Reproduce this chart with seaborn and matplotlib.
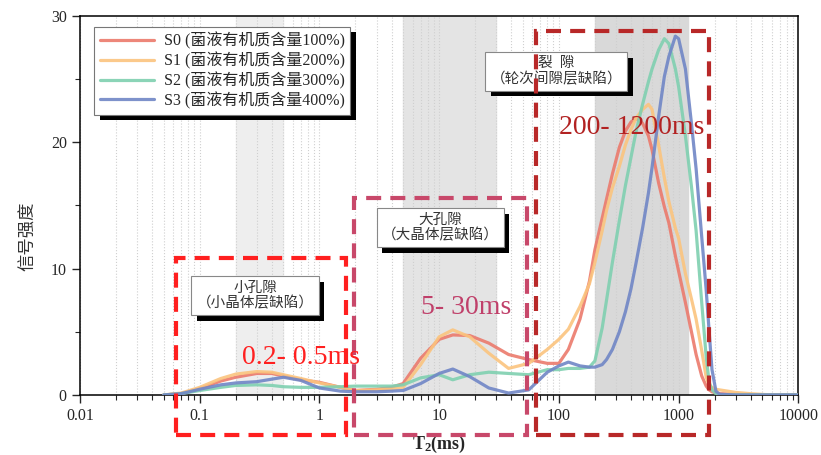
import matplotlib
matplotlib.use('Agg')
import numpy as np
import pandas as pd
import matplotlib.pyplot as plt
import matplotlib.patheffects as pe
from matplotlib.patches import Rectangle
from matplotlib.ticker import FixedLocator, FuncFormatter
import seaborn as sns

# T2 弛豫时间 (ms)
t2 = [0.05, 0.07, 0.1, 0.15, 0.2, 0.3, 0.4, 0.5, 0.7, 1, 1.5, 2, 3, 4, 5, 7, 10, 13, 18, 26,
      38, 56, 80, 100, 120, 150, 180, 200, 230, 250, 280, 320, 360, 400, 440, 500, 560, 600,
      680, 760, 830, 940, 1000, 1140, 1280, 1400, 1560, 1700, 1800, 1900, 2050, 2200, 3000,
      4000, 6000, 10000]

s0 = [0, 0.1, 0.5, 1.1, 1.4, 1.7, 1.7, 1.5, 1.2, 1.0, 0.6, 0.35, 0.45, 0.6, 0.9, 2.9, 4.4, 4.75, 4.7, 4.1,
      3.2, 2.8, 2.5, 2.5, 3.6, 6.0, 9.0, 11.5, 14.0, 15.5, 17.5, 19.6, 20.9, 21.6, 21.9, 21.5, 20.5, 19.4,
      16.8, 14.9, 13.6, 11.0, 9.8, 7.3, 5.0, 3.2, 1.5, 0.7, 0.4, 0.25, 0.15, 0.1, 0.05,
      0, 0, 0]
s1 = [0, 0.15, 0.6, 1.3, 1.65, 1.85, 1.8, 1.6, 1.3, 0.95, 0.6, 0.35, 0.4, 0.45, 0.6, 2.4, 4.6, 5.15, 4.6, 3.3,
      2.1, 2.5, 3.6, 4.4, 5.2, 7.0, 8.8, 10.5, 13.0, 14.6, 16.4, 18.1, 19.8, 21.0, 21.9, 22.6, 23.0, 22.6,
      19.8, 17.2, 15.3, 13.2, 12.4, 9.6, 7.6, 6.0, 3.5, 1.4, 0.8, 0.6, 0.45, 0.4, 0.2,
      0.1, 0, 0]
s2 = [0, 0.1, 0.35, 0.6, 0.75, 0.8, 0.75, 0.65, 0.6, 0.6, 0.65, 0.7, 0.7, 0.7, 0.8, 1.35, 1.6, 1.2, 1.6, 1.8,
      1.7, 1.6, 2.0, 2.0, 2.1, 2.1, 2.2, 2.7, 5.3, 7.5, 10.5, 13.8, 16.6, 18.8, 20.8, 23.0, 24.8, 25.8,
      27.3, 28.2, 27.8, 25.8, 24.4, 20.5, 16.5, 13.0, 7.3, 3.0, 1.0, 0.4, 0.1, 0, 0,
      0, 0, 0]
s3 = [0, 0.1, 0.45, 0.8, 0.95, 1.05, 1.25, 1.4, 1.15, 0.55, 0.3, 0.25, 0.25, 0.3, 0.35, 0.9, 1.7, 2.05, 1.45, 0.55,
      0.15, 0.4, 1.8, 2.3, 2.6, 2.3, 2.2, 2.2, 2.4, 2.8, 3.6, 5.0, 6.6, 8.4, 10.4, 13.2, 16.0, 18.0,
      22.0, 25.2, 26.8, 28.4, 28.2, 25.8, 21.5, 17.9, 12.5, 8.3, 5.0, 2.0, 0.3, 0.05, 0,
      0, 0, 0]

labels = ['S0 (菌液有机质含量100%)', 'S1 (菌液有机质含量200%)',
          'S2 (菌液有机质含量300%)', 'S3 (菌液有机质含量400%)']
colors = ['#eb7a6c', '#fbc47e', '#7fd0b0', '#7086c6']

df = pd.DataFrame({'T2': t2, labels[0]: s0, labels[1]: s1, labels[2]: s2, labels[3]: s3})
df = df.melt(id_vars='T2', var_name='样品', value_name='信号强度')

sns.set_style('ticks')
plt.rcParams['font.family'] = ['Liberation Serif', 'Noto Sans CJK SC']
plt.rcParams['mathtext.fontset'] = 'custom'
plt.rcParams['mathtext.rm'] = 'Liberation Serif'
plt.rcParams['mathtext.bf'] = 'Liberation Serif:bold'

fig = plt.figure(figsize=(8.21, 4.55), dpi=100)
ax = fig.add_axes([0.0974, 0.132, 0.875, 0.833])

# 孔隙区间底色
ax.axvspan(0.2, 0.5, color='#eeeeee', zorder=0)
ax.axvspan(5, 30, color='#e4e4e4', zorder=0)
ax.axvspan(200, 1200, color='#d9d9d9', zorder=0)

sns.lineplot(data=df, x='T2', y='信号强度', hue='样品', palette=colors, linewidth=2.3,
             alpha=0.9, ax=ax, legend=True, zorder=3)

ax.set_xscale('log')
ax.set_xlim(0.01, 10000)
ax.set_ylim(0, 30)
ax.xaxis.set_major_locator(FixedLocator([0.01, 0.1, 1, 10, 100, 1000, 10000]))
ax.xaxis.set_major_formatter(FuncFormatter(lambda v, p: '%g' % v))
ax.set_yticks([0, 10, 20, 30])
ax.set_yticks([5, 15, 25], minor=True)
ax.tick_params(axis='both', which='major', labelsize=11.5, length=6, width=1, direction='out')
ax.tick_params(axis='both', which='minor', length=3.5, width=0.8, direction='out')
ax.grid(which='both', axis='x', linestyle=':', color='#cfcfcf', linewidth=0.8, zorder=1)
for s in ax.spines.values():
    s.set_color('black')
    s.set_linewidth(1.1)

ax.set_xlabel(r'$\mathbf{T_2}$(ms)', fontsize=13, fontweight='bold', labelpad=7)
ax.set_ylabel('信号强度', fontsize=12.5, color='#333333')
ax.yaxis.set_label_coords(-0.06, 0.42)

leg = ax.legend(loc='upper left', bbox_to_anchor=(0.02, 0.972), fontsize=11.5, frameon=True,
                fancybox=False, framealpha=1, edgecolor='#777777', handlelength=3.4, handletextpad=0.6,
                labelspacing=0.15, borderpad=0.35, borderaxespad=0)
leg.get_frame().set_linewidth(0.8)
leg.get_frame().set_path_effects([pe.SimplePatchShadow(offset=(4, -4), shadow_rgbFace='black', alpha=1),
                                  pe.Normal()])
leg.set_zorder(6)
for line in leg.get_lines():
    line.set_linewidth(2.3)

# 孔隙类型标注
boxes = [
    (0.29, 7.86, '小孔隙\n（小晶体层缺陷）'),
    (10.2, 13.25, '大孔隙\n（大晶体层缺陷）'),
    (95, 25.6, '裂  隙\n（轮次间隙层缺陷）'),
]
for x, y, s in boxes:
    t = ax.text(x, y, s, ha='center', va='center', fontsize=10.5, color='#333333',
                linespacing=1.1, zorder=5,
                bbox=dict(boxstyle='square,pad=0.35', fc='white', ec='#888888', lw=0.8))
    t.get_bbox_patch().set_path_effects([pe.SimplePatchShadow(offset=(4, -4), shadow_rgbFace='black', alpha=1),
                                         pe.Normal()])

# 虚线框
frames = [
    (0.063, 1.68, 10.87, '#ff1f1f'),
    (1.96, 54, 15.6, '#c8486a'),
    (64.3, 1780, 28.8, '#b82828'),
]
for x0, x1, top, c in frames:
    ax.add_patch(Rectangle((x0, -3.2), x1 - x0, top + 3.2, fill=False, ec=c, lw=3,
                           linestyle=(0, (3.6, 2.2)), clip_on=False, zorder=7))

ax.text(0.7, 3.0, '0.2- 0.5ms', color='#ff2020', fontsize=20, ha='center', va='center', zorder=8)
ax.text(16.8, 6.9, '5- 30ms', color='#c0406a', fontsize=20, ha='center', va='center', zorder=8)
ax.text(404, 21.2, '200- 1200ms', color='#b22222', fontsize=20, ha='center', va='center', zorder=8)

fig.savefig('out.png', dpi=100)
